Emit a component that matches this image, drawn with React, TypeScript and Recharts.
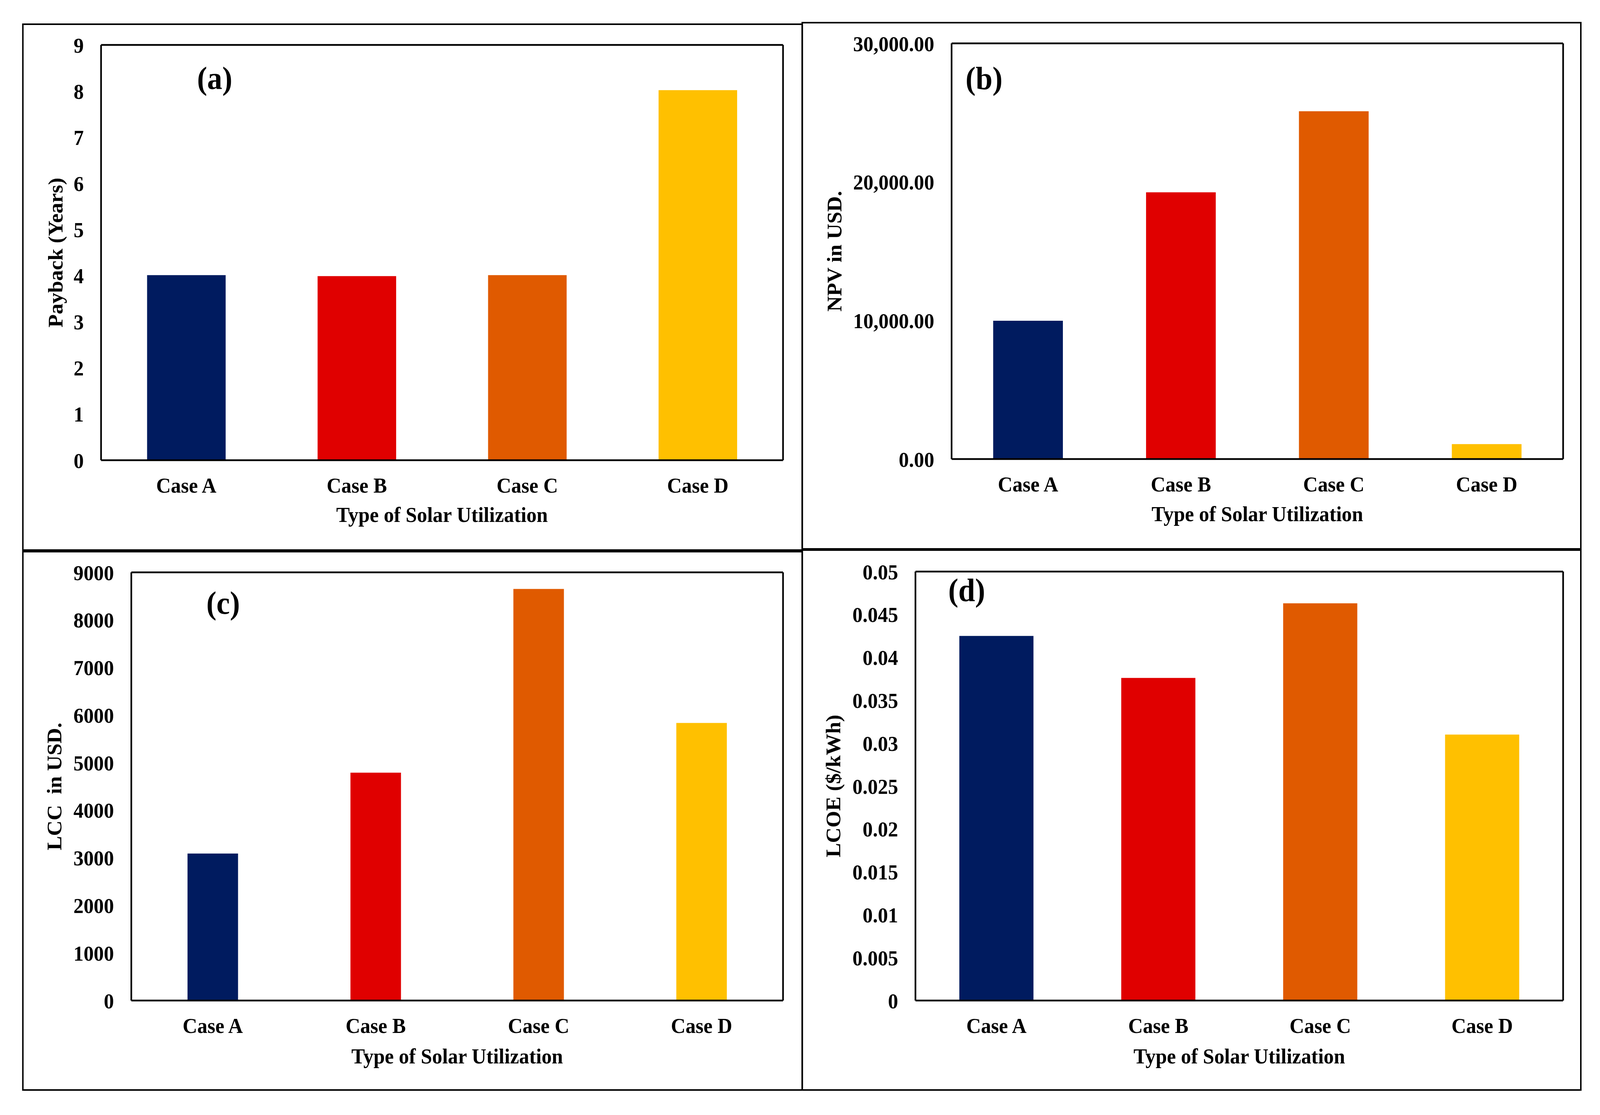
import React from 'react';
import { BarChart, Bar, XAxis, YAxis, Cell, ReferenceLine } from 'recharts';

const categories = ['Case A', 'Case B', 'Case C', 'Case D'];
const paybackYears = [4.01, 3.99, 4.01, 8.02];
const npvUsd = [9980, 19250, 25100, 1080];
const lccUsd = [3090, 4790, 8650, 5835];
const lcoeUsdPerKwh = [0.0425, 0.0376, 0.0463, 0.031];
const barColors = ['#001B5F', '#E00000', '#E05A00', '#FFC000'];

const paybackTicks = [0, 1, 2, 3, 4, 5, 6, 7, 8, 9];
const npvTicks = [0, 10000, 20000, 30000];
const lccTicks = [0, 1000, 2000, 3000, 4000, 5000, 6000, 7000, 8000, 9000];
const lcoeTicks = [0, 0.005, 0.01, 0.015, 0.02, 0.025, 0.03, 0.035, 0.04, 0.045, 0.05];

const FONT = "'Liberation Serif', 'Times New Roman', serif";
const FS = 55;
const AXIS_STROKE = 4.5;
const PAGE_W = 4338;
const PAGE_H = 2854;

const fmtNpv = (v: number) =>
  v.toLocaleString('en-US', { minimumFractionDigits: 2, maximumFractionDigits: 2 });
const fmtPlain = (v: number) => String(v);

type PanelCfg = {
  tag: string;
  yTitle: string;
  values: number[];
  ticks: number[];
  fmt: (v: number) => string;
  box: { left: number; top: number; width: number; height: number };
  chart: { left: number; top: number; width: number; height: number };
  margin: { top: number; right: number };
  yAxisWidth: number;
  xAxisHeight: number;
  gap: string;
  xTitlePos: { x: number; y: number };
  yTitlePos: { x: number; y: number };
  tagPos: { x: number; y: number };
};

const panels: PanelCfg[] = [
  {
    tag: '(a)',
    yTitle: 'Payback (Years)',
    values: paybackYears,
    ticks: paybackTicks,
    fmt: fmtPlain,
    box: { left: 60, top: 60, width: 2117, height: 1350 },
    chart: { left: 64, top: 64, width: 2110, height: 1342 },
    margin: { top: 51, right: 51 },
    yAxisWidth: 210,
    xAxisHeight: 228,
    gap: '27%',
    xTitlePos: { x: 1134.5, y: 1272 },
    yTitlePos: { x: 105, y: 582.5 },
    tagPos: { x: 518, y: 164.5 },
  },
  {
    tag: '(b)',
    yTitle: 'NPV in USD.',
    values: npvUsd,
    ticks: npvTicks,
    fmt: fmtNpv,
    box: { left: 2173, top: 56, width: 2115, height: 1351 },
    chart: { left: 2178, top: 60, width: 2106, height: 1343 },
    margin: { top: 51, right: 46 },
    yAxisWidth: 402,
    xAxisHeight: 228,
    gap: '27.2%',
    xTitlePos: { x: 1231, y: 1274 },
    yTitlePos: { x: 103, y: 583 },
    tagPos: { x: 490, y: 168.5 },
  },
  {
    tag: '(c)',
    yTitle: 'LCC  in USD.',
    values: lccUsd,
    ticks: lccTicks,
    fmt: fmtPlain,
    box: { left: 60, top: 1410, width: 2117, height: 1382 },
    chart: { left: 64, top: 1414, width: 2110, height: 1374 },
    margin: { top: 51, right: 51 },
    yAxisWidth: 292,
    xAxisHeight: 227,
    gap: '34.5%',
    xTitlePos: { x: 1175.5, y: 1308 },
    yTitlePos: { x: 102, y: 599 },
    tagPos: { x: 541, y: 157 },
  },
  {
    tag: '(d)',
    yTitle: 'LCOE ($/kWh)',
    values: lcoeUsdPerKwh,
    ticks: lcoeTicks,
    fmt: fmtPlain,
    box: { left: 2173, top: 1406, width: 2115, height: 1386 },
    chart: { left: 2178, top: 1411, width: 2106, height: 1377 },
    margin: { top: 52, right: 46 },
    yAxisWidth: 304,
    xAxisHeight: 227,
    gap: '27.1%',
    xTitlePos: { x: 1182, y: 1311 },
    yTitlePos: { x: 100, y: 601 },
    tagPos: { x: 443, y: 127 },
  },
];

const textStyle = {
  fontFamily: FONT,
  fontWeight: 700,
  fontSize: FS,
  fill: '#000',
};

function Panel({ cfg }: { cfg: PanelCfg }) {
  const data = categories.map((c, i) => ({ cat: c, value: cfg.values[i] }));
  const maxY = cfg.ticks[cfg.ticks.length - 1];
  const lastCat = categories[categories.length - 1];
  return (
    <>
      <div
        style={{
          position: 'absolute',
          left: cfg.box.left,
          top: cfg.box.top,
          width: cfg.box.width,
          height: cfg.box.height,
          border: '4px solid #000',
          boxSizing: 'border-box',
        }}
      />
      <div
        style={{
          position: 'absolute',
          left: cfg.chart.left,
          top: cfg.chart.top,
          width: cfg.chart.width,
          height: cfg.chart.height,
        }}
      >
        <BarChart
          width={cfg.chart.width}
          height={cfg.chart.height}
          data={data}
          margin={{ top: cfg.margin.top, right: cfg.margin.right, left: 0, bottom: 0 }}
          barCategoryGap={cfg.gap}
        >
          <XAxis
            dataKey="cat"
            type="category"
            height={cfg.xAxisHeight}
            interval={0}
            tickSize={0}
            tickMargin={44}
            tickLine={false}
            axisLine={{ stroke: '#000', strokeWidth: AXIS_STROKE }}
            tick={textStyle}
            label={() => (
              <text
                x={cfg.xTitlePos.x}
                y={cfg.xTitlePos.y}
                textAnchor="middle"
                style={textStyle}
              >
                Type of Solar Utilization
              </text>
            )}
          />
          <YAxis
            type="number"
            domain={[0, maxY]}
            ticks={cfg.ticks}
            interval={0}
            width={cfg.yAxisWidth}
            tickSize={0}
            tickMargin={47}
            tickLine={false}
            tickFormatter={cfg.fmt}
            axisLine={{ stroke: '#000', strokeWidth: AXIS_STROKE }}
            tick={textStyle}
            label={() => (
              <text
                x={cfg.yTitlePos.x}
                y={cfg.yTitlePos.y}
                textAnchor="middle"
                transform={`rotate(-90 ${cfg.yTitlePos.x} ${cfg.yTitlePos.y})`}
                style={{ ...textStyle, whiteSpace: 'pre' }}
                xmlSpace="preserve"
              >
                {cfg.yTitle}
              </text>
            )}
          />
          <Bar dataKey="value" isAnimationActive={false}>
            {data.map((d, i) => (
              <Cell key={d.cat} fill={barColors[i]} />
            ))}
          </Bar>
          <ReferenceLine
            y={maxY}
            stroke="#000"
            strokeWidth={AXIS_STROKE}
            label={() => (
              <text
                x={cfg.tagPos.x}
                y={cfg.tagPos.y}
                textAnchor="middle"
                style={{ ...textStyle, fontSize: 82 }}
              >
                {cfg.tag}
              </text>
            )}
          />
          <ReferenceLine
            x={lastCat}
            position="end"
            stroke="#000"
            strokeWidth={AXIS_STROKE}
          />
        </BarChart>
      </div>
    </>
  );
}

export default function App() {
  // The viewport may be narrower than the reference; fit the drawing to its width.
  const vw = typeof window !== 'undefined' ? window.innerWidth : PAGE_W;
  const sx = Math.min(1, vw / PAGE_W);
  return (
    <div
      style={{
        position: 'absolute',
        left: 0,
        top: 0,
        width: PAGE_W,
        height: PAGE_H,
        background: '#fff',
        overflow: 'hidden',
        transform: `scaleX(${sx})`,
        transformOrigin: '0 0',
      }}
    >
      {panels.map((p) => (
        <Panel key={p.tag} cfg={p} />
      ))}
    </div>
  );
}
